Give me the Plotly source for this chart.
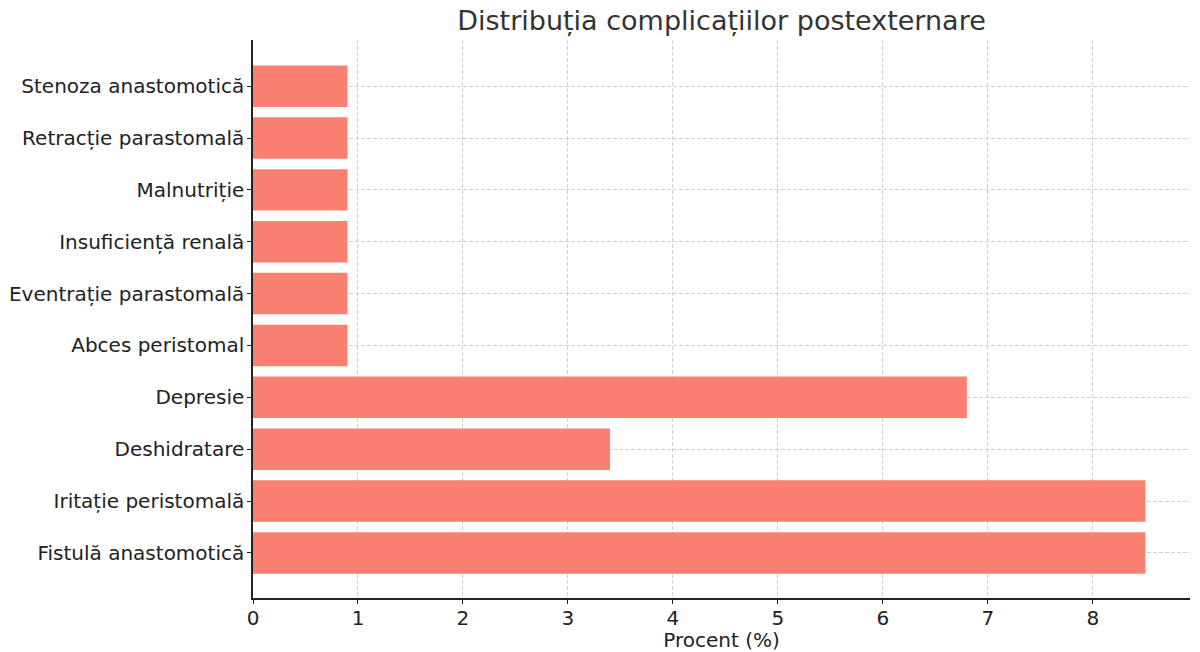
import plotly.graph_objects as go

categories = ["Fistulă anastomotică", "Iritație peristomală", "Deshidratare", "Depresie",
              "Abces peristomal", "Eventrație parastomală", "Insuficiență renală",
              "Malnutriție", "Retracție parastomală", "Stenoza anastomotică"]
values = [8.5, 8.5, 3.4, 6.8, 0.9, 0.9, 0.9, 0.9, 0.9, 0.9]
x_ticks = [0, 1, 2, 3, 4, 5, 6, 7, 8]

fig = go.Figure(go.Bar(
    x=values, y=categories, orientation="h", width=0.8,
    marker=dict(color="#FA8072", line=dict(width=0)),
))

font = "DejaVu Sans, Verdana, sans-serif"
fig.update_layout(
    width=1200, height=652,
    paper_bgcolor="white", plot_bgcolor="white",
    margin=dict(l=253, r=10, t=40, b=54, autoexpand=False),
    title=dict(text="Distribuția complicațiilor postexternare", x=0.5, xref="paper", xanchor="center",
               y=0.969, yref="container", yanchor="middle", font=dict(family=font, size=27, color="#333333")),
    font=dict(family=font, size=20, color="#222222"),
    showlegend=False,
)
fig.update_xaxes(
    range=[0, 8.925], tickvals=x_ticks, ticks="outside", ticklen=4, tickcolor="#222",
    showline=True, linecolor="#222", linewidth=1.5,
    showgrid=True, gridcolor="#d0d0d0", griddash="4px,2px", gridwidth=1,
    zeroline=False, automargin=False,
    title=dict(text="Procent (%)", font=dict(size=20, color="#222222"), standoff=0),
    tickfont=dict(size=20), ticklabelstandoff=-3,
)
fig.update_yaxes(
    type="category", categoryorder="array", categoryarray=categories,
    range=[-0.87, 9.89], ticks="outside", ticklen=4, tickcolor="#222",
    showline=True, linecolor="#222", linewidth=1.5,
    showgrid=True, gridcolor="#d0d0d0", griddash="4px,2px", gridwidth=1,
    zeroline=False, automargin=False,
    tickfont=dict(size=20), ticklabelstandoff=-1,
)
fig.write_html("out.html", post_script="document.body.style.margin='0';",
               config={"displayModeBar": False})
